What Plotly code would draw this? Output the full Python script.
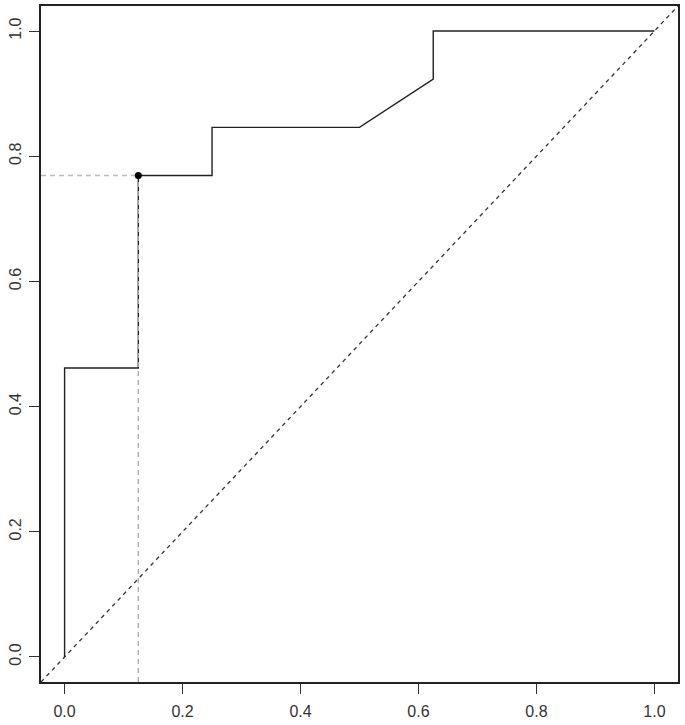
import plotly.graph_objects as go

# curva ROC (1 - especificidade, sensibilidade)
fpr = [0.0, 0.0, 0.125, 0.125, 0.25, 0.25, 0.5, 0.625, 0.625, 1.0]
tpr = [0.0, 6/13, 6/13, 10/13, 10/13, 11/13, 11/13, 12/13, 1.0, 1.0]

# ponto de corte destacado
best_x = [0.125]
best_y = [10/13]

tick_vals = [0.0, 0.2, 0.4, 0.6, 0.8, 1.0]
tick_text = ['0.0', '0.2', '0.4', '0.6', '0.8', '1.0']

lo, hi = -0.04, 1.04  # faixa padrão do R (4% de folga)

fig = go.Figure()

# diagonal de referência
fig.add_trace(go.Scatter(x=[lo, hi], y=[lo, hi], mode='lines',
                         line=dict(color='#333333', width=1.3, dash='4px,4px'),
                         hoverinfo='skip'))

fig.add_trace(go.Scatter(x=fpr, y=tpr, mode='lines',
                         line=dict(color='#222222', width=1.4),
                         name='ROC'))

# linhas guia até os eixos
fig.add_trace(go.Scatter(x=[lo, best_x[0]], y=[best_y[0], best_y[0]], mode='lines',
                         line=dict(color='#bbbbbb', width=1.3, dash='5px,4px'),
                         hoverinfo='skip'))
fig.add_trace(go.Scatter(x=[best_x[0], best_x[0]], y=[lo, best_y[0]], mode='lines',
                         line=dict(color='#aaaaaa', width=1.3, dash='5px,4px'),
                         hoverinfo='skip'))

fig.add_trace(go.Scatter(x=best_x, y=best_y, mode='markers',
                         marker=dict(color='black', size=7)))

axis_common = dict(
    range=[lo, hi],
    tickmode='array',
    tickvals=tick_vals,
    ticktext=tick_text,
    showgrid=False,
    zeroline=False,
    showline=True,
    mirror=True,
    linecolor='#222222',
    linewidth=1.5,
    ticks='outside',
    ticklen=10,
    tickwidth=1.3,
    tickcolor='#333333',
    automargin=False,
    tickfont=dict(family='Liberation Sans, Arial, sans-serif', size=16, color='#333333'),
)

fig.update_layout(
    width=685, height=725,
    margin=dict(l=41, r=7, t=6, b=43),
    plot_bgcolor='white', paper_bgcolor='white',
    showlegend=False,
    xaxis=dict(**axis_common, ticklabelstandoff=4),
    yaxis=dict(**axis_common, tickangle=-90, ticklabelstandoff=2),
)

# tira a margem padrão do <body> para o gráfico ocupar a janela toda
fig.write_html("out.html", config={'displayModeBar': False},
               post_script="document.body.style.margin='0';")
